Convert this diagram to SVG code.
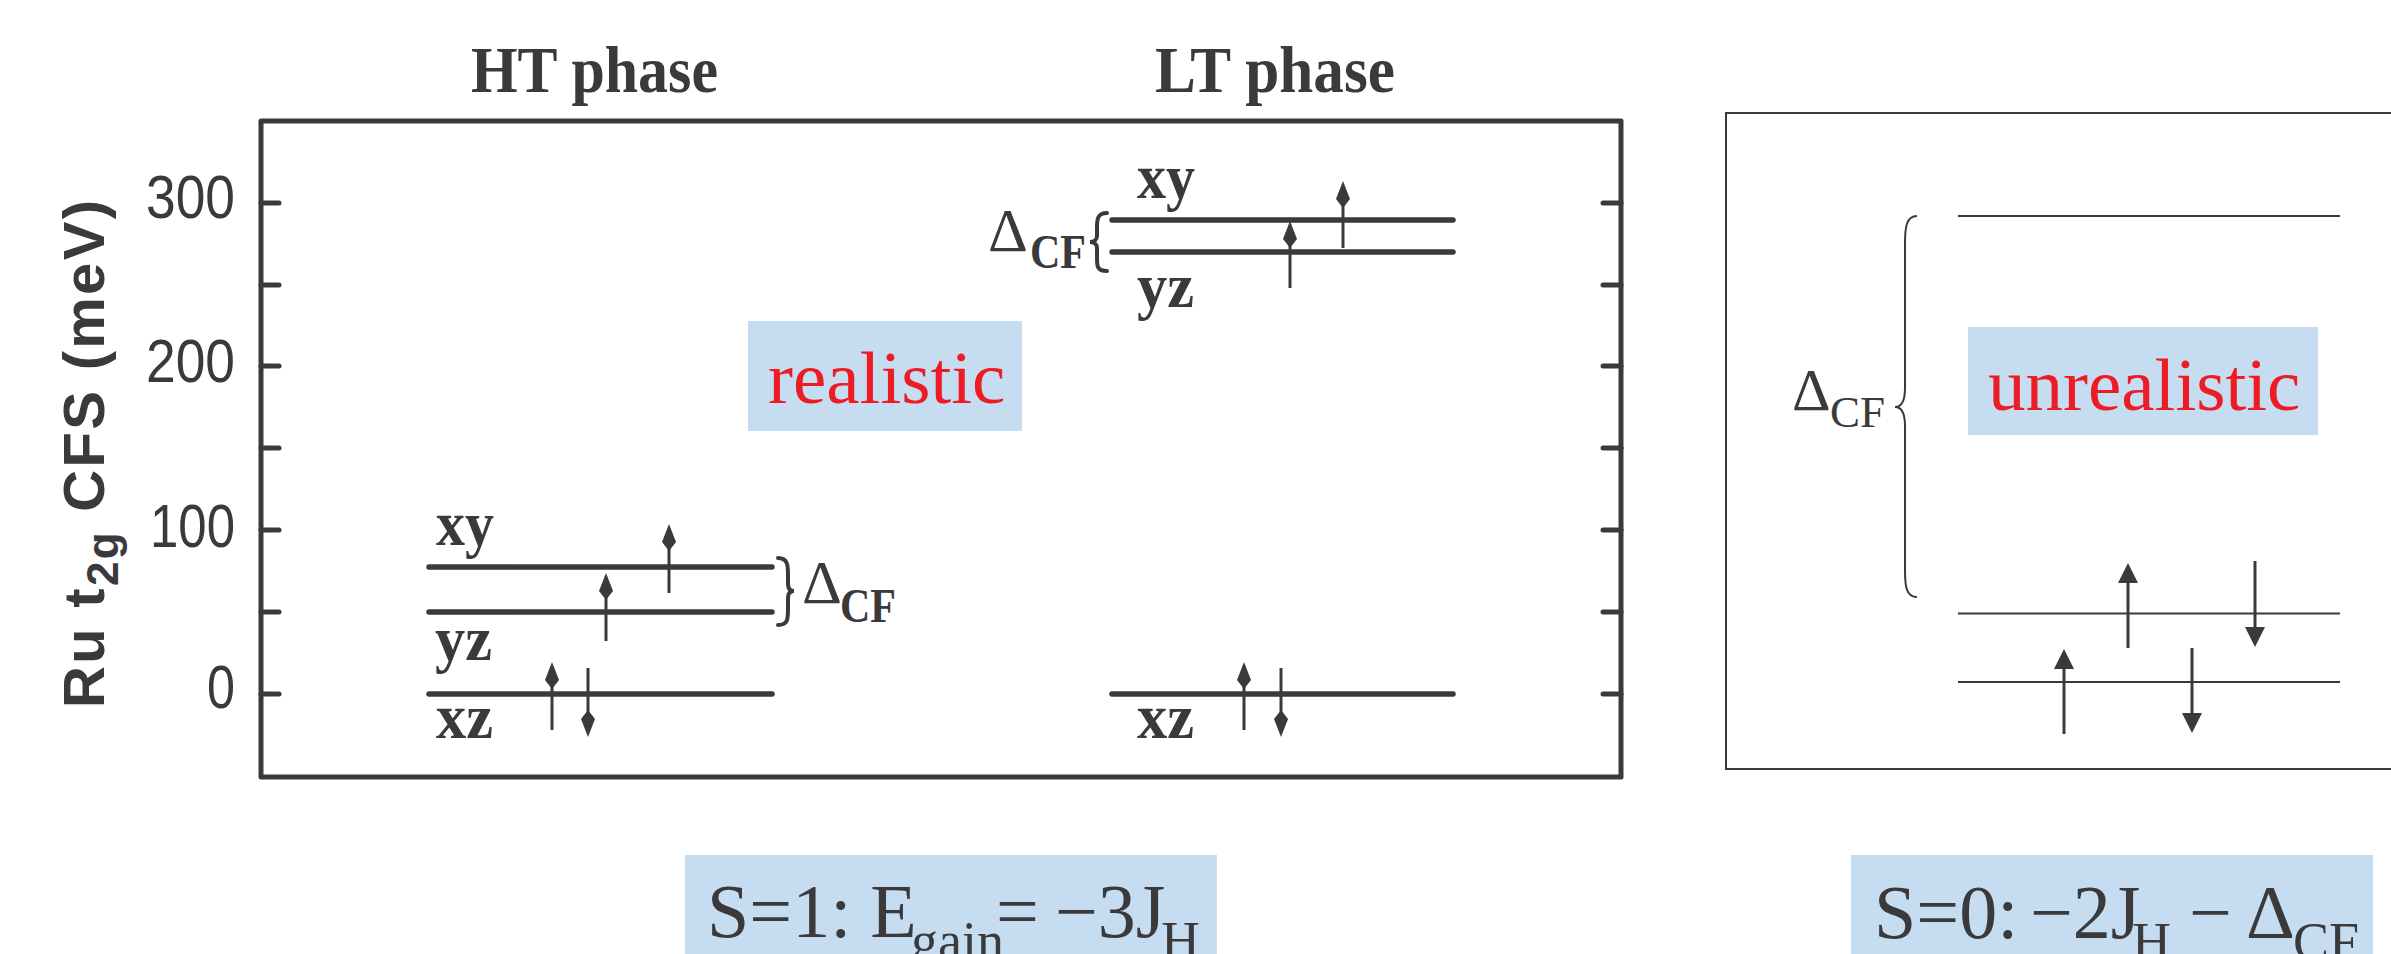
<svg xmlns="http://www.w3.org/2000/svg" xmlns:xlink="http://www.w3.org/1999/xlink" width="2391" height="954" viewBox="0 0 2391 954">
<style>
  .frame{fill:none;stroke:#3a3a3d;stroke-width:5;stroke-linecap:round;stroke-linejoin:round}
  .tick{stroke:#3a3a3d;stroke-width:5;stroke-linecap:round}
  .lvl{stroke:#3a3a3d;stroke-width:5.5;stroke-linecap:round}
  .spin{stroke:#3a3a3d;stroke-width:3}
  .thin{stroke:#3a3a3d;stroke-width:2;fill:none}
  .brace{stroke:#3a3a3d;stroke-width:4;fill:none;stroke-linecap:round}
  .head{fill:#3a3a3d}
  .ax{font-family:"Liberation Sans",Arial,sans-serif;fill:#3a3a3d}
  .serif{font-family:"Liberation Serif","Times New Roman",serif;fill:#3a3a3d}
  .bold{font-weight:bold}
  .red{fill:#ed1c24}
  .box{fill:#c6dcf0}
</style>
<defs>
  <path id="kite" d="M0,0 L7,18 L0,27 L-7,18 Z" class="head"/>
  <path id="tri" d="M0,0 L10,20 L-10,20 Z" class="head"/>
</defs>

<g id="left-panel">
  <rect class="frame" x="261" y="121" width="1360" height="656"/>
  <g id="ticks">
    <line class="tick" x1="261" y1="203" x2="279" y2="203"/>
    <line class="tick" x1="261" y1="285" x2="279" y2="285"/>
    <line class="tick" x1="261" y1="366" x2="279" y2="366"/>
    <line class="tick" x1="261" y1="448" x2="279" y2="448"/>
    <line class="tick" x1="261" y1="530" x2="279" y2="530"/>
    <line class="tick" x1="261" y1="612" x2="279" y2="612"/>
    <line class="tick" x1="261" y1="694" x2="279" y2="694"/>
    <line class="tick" x1="1603" y1="203" x2="1621" y2="203"/>
    <line class="tick" x1="1603" y1="285" x2="1621" y2="285"/>
    <line class="tick" x1="1603" y1="366" x2="1621" y2="366"/>
    <line class="tick" x1="1603" y1="448" x2="1621" y2="448"/>
    <line class="tick" x1="1603" y1="530" x2="1621" y2="530"/>
    <line class="tick" x1="1603" y1="612" x2="1621" y2="612"/>
    <line class="tick" x1="1603" y1="694" x2="1621" y2="694"/>
  </g>
  <g id="tick-labels" class="ax" font-size="62" text-anchor="end">
    <text x="235" y="218" textLength="89" lengthAdjust="spacingAndGlyphs">300</text>
    <text x="235" y="382" textLength="89" lengthAdjust="spacingAndGlyphs">200</text>
    <text x="235" y="547" textLength="85" lengthAdjust="spacingAndGlyphs">100</text>
    <text x="235" y="708" textLength="28" lengthAdjust="spacingAndGlyphs">0</text>
  </g>
  <text id="y-label" class="ax bold" font-size="58" transform="translate(104,454) rotate(-90)" text-anchor="middle" textLength="508" lengthAdjust="spacing">Ru t<tspan font-size="44" dy="14">2g</tspan><tspan dy="-14">  CFS (meV)</tspan></text>
</g>

<g id="ht-title"><text class="serif bold" x="471" y="92" font-size="66" textLength="247" lengthAdjust="spacingAndGlyphs">HT phase</text></g>
<g id="lt-title"><text class="serif bold" x="1155" y="92" font-size="66" textLength="240" lengthAdjust="spacingAndGlyphs">LT phase</text></g>

<g id="ht-levels">
  <line class="lvl" x1="429" y1="567" x2="772" y2="567"/>
  <line class="lvl" x1="429" y1="612" x2="772" y2="612"/>
  <line class="lvl" x1="429" y1="694" x2="772" y2="694"/>
  <text class="serif bold" x="436" y="545" font-size="64" textLength="58" lengthAdjust="spacingAndGlyphs">xy</text>
  <text class="serif bold" x="435" y="660" font-size="64" textLength="57" lengthAdjust="spacingAndGlyphs">yz</text>
  <text class="serif bold" x="436" y="738" font-size="64" textLength="57" lengthAdjust="spacingAndGlyphs">xz</text>
  <path class="brace" d="M778,558 C788,558 788,566 788,575 L788,584 C788,589 790,591 794,591 C790,591 788,593 788,598 L788,609 C788,619 788,625 778,625"/>
  <text class="serif" x="802" y="603" font-size="62">Δ</text>
  <text class="serif bold" x="840" y="622" font-size="48" textLength="56" lengthAdjust="spacingAndGlyphs">CF</text>
</g>

<g id="lt-levels">
  <line class="lvl" x1="1112" y1="220" x2="1453" y2="220"/>
  <line class="lvl" x1="1112" y1="252" x2="1453" y2="252"/>
  <line class="lvl" x1="1112" y1="694" x2="1453" y2="694"/>
  <text class="serif bold" x="1137" y="198" font-size="64" textLength="58" lengthAdjust="spacingAndGlyphs">xy</text>
  <text class="serif bold" x="1137" y="307" font-size="64" textLength="57" lengthAdjust="spacingAndGlyphs">yz</text>
  <text class="serif bold" x="1137" y="738" font-size="64" textLength="57" lengthAdjust="spacingAndGlyphs">xz</text>
  <path class="brace" d="M1107,213 C1097,213 1097,220 1097,228 L1097,236 C1097,240 1094,242 1090,242 C1094,242 1097,244 1097,248 L1097,258 C1097,266 1097,271 1107,271"/>
  <text class="serif" x="988" y="251" font-size="62">Δ</text>
  <text class="serif bold" x="1030" y="268" font-size="48" textLength="56" lengthAdjust="spacingAndGlyphs">CF</text>
</g>

<g id="spins-left">
  <line class="spin" x1="669" y1="530" x2="669" y2="593"/><use xlink:href="#kite" href="#kite" transform="translate(669,524)"/>
  <line class="spin" x1="606" y1="579" x2="606" y2="641"/><use xlink:href="#kite" href="#kite" transform="translate(606,573)"/>
  <line class="spin" x1="552" y1="668" x2="552" y2="730"/><use xlink:href="#kite" href="#kite" transform="translate(552,662)"/>
  <line class="spin" x1="588" y1="668" x2="588" y2="731"/><use xlink:href="#kite" href="#kite" transform="translate(588,737) rotate(180)"/>
  <line class="spin" x1="1290" y1="227" x2="1290" y2="288"/><use xlink:href="#kite" href="#kite" transform="translate(1290,221)"/>
  <line class="spin" x1="1343" y1="187" x2="1343" y2="248"/><use xlink:href="#kite" href="#kite" transform="translate(1343,181)"/>
  <line class="spin" x1="1244" y1="668" x2="1244" y2="730"/><use xlink:href="#kite" href="#kite" transform="translate(1244,662)"/>
  <line class="spin" x1="1281" y1="668" x2="1281" y2="731"/><use xlink:href="#kite" href="#kite" transform="translate(1281,737) rotate(180)"/>
</g>

<g id="realistic">
  <rect class="box" x="748" y="321" width="274" height="110"/>
  <text class="serif red" x="768" y="403" font-size="75">realistic</text>
</g>

<g id="right-panel">
  <rect class="thin" x="1726" y="113" width="720" height="656"/>
  <line class="thin" x1="1958" y1="216" x2="2340" y2="216"/>
  <line class="thin" x1="1958" y1="613.5" x2="2340" y2="613.5"/>
  <line class="thin" x1="1958" y1="682" x2="2340" y2="682"/>
  <path class="thin" d="M1917,216 C1906,216 1905,228 1905,244 L1905,388 C1905,402 1901,407 1895,407 C1901,407 1905,412 1905,426 L1905,570 C1905,586 1906,597 1917,597"/>
  <text class="serif" x="1792" y="410" font-size="60">Δ</text>
  <text class="serif" x="1830" y="427" font-size="45">CF</text>
  <rect class="box" x="1968" y="327" width="350" height="108"/>
  <text class="serif red" x="1988" y="410" font-size="75">unrealistic</text>
  <line class="spin" x1="2064" y1="668" x2="2064" y2="734" stroke-width="2.5"/><use xlink:href="#tri" href="#tri" transform="translate(2064,649)"/>
  <line class="spin" x1="2128" y1="582" x2="2128" y2="648" stroke-width="2.5"/><use xlink:href="#tri" href="#tri" transform="translate(2128,563)"/>
  <line class="spin" x1="2192" y1="648" x2="2192" y2="715" stroke-width="2.5"/><use xlink:href="#tri" href="#tri" transform="translate(2192,733) rotate(180)"/>
  <line class="spin" x1="2255" y1="561" x2="2255" y2="628" stroke-width="2.5"/><use xlink:href="#tri" href="#tri" transform="translate(2255,647) rotate(180)"/>
</g>

<g id="formula-s1">
  <rect class="box" x="685" y="855" width="532" height="110"/>
  <text class="serif" font-size="76" y="937"><tspan x="707">S=1: E</tspan><tspan x="911" y="959" font-size="54">gain</tspan><tspan x="996" y="937">=</tspan><tspan x="1055" y="937">−3J</tspan><tspan x="1161" y="959" font-size="54">H</tspan></text>
</g>

<g id="formula-s0">
  <rect class="box" x="1851" y="855" width="522" height="110"/>
  <text class="serif" font-size="76" y="938"><tspan x="1874">S=0:</tspan><tspan x="2030" y="938">−2J</tspan><tspan x="2132" y="960" font-size="54">H</tspan><tspan x="2189" y="938">−</tspan><tspan x="2246" y="938">Δ</tspan><tspan x="2293" y="960" font-size="54">CF</tspan></text>
</g>
</svg>
